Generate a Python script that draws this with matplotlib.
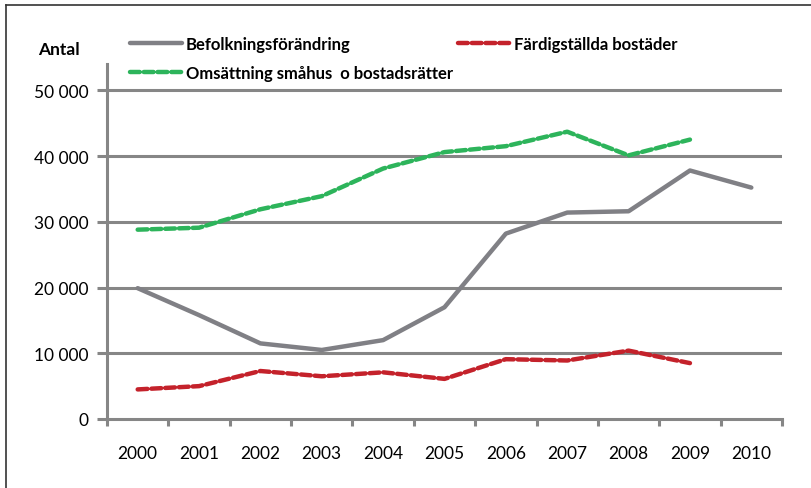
import numpy as np
import matplotlib.pyplot as plt
from matplotlib.lines import Line2D

plt.rcParams['font.family'] = ['Lato', 'DejaVu Sans']

years = ['2000', '2001', '2002', '2003', '2004', '2005',
         '2006', '2007', '2008', '2009', '2010']
befolkning = [19900, 15800, 11500, 10500, 12000, 17000,
              28200, 31400, 31600, 37800, 35200]
fardigstallda = [4500, 5000, 7300, 6500, 7100, 6100,
                 9100, 8900, 10400, 8500]
omsattning = [28800, 29100, 31900, 33900, 38100, 40600,
              41500, 43700, 40100, 42500]
yticks = [0, 10000, 20000, 30000, 40000, 50000]
ytick_labels = ['0', '10 000', '20 000', '30 000', '40 000', '50 000']

axis_col = '#868686'

fig = plt.figure(figsize=(8.12, 4.89), dpi=100)
ax = fig.add_axes([107/812, 1-420/489, 675/812, 355/489])

x = np.arange(len(years))
l1, = ax.plot(x, befolkning, color='#808085', lw=3.2, solid_capstyle='round',
              label='Befolkningsförändring', zorder=3)
l2, = ax.plot(x[:len(fardigstallda)], fardigstallda, color='#C4222B', lw=3.2,
              dashes=(2.2, 0.9), dash_capstyle='round',
              label='Färdigställda bostäder', zorder=3)
l3, = ax.plot(x[:len(omsattning)], omsattning, color='#2DB45B', lw=3.2,
              dashes=(2.2, 0.9), dash_capstyle='round',
              label='Omsättning småhus  o bostadsrätter', zorder=3)

ax.set_xlim(-0.5, len(years) - 0.5)
ax.set_ylim(0, 54000)
ax.set_yticks(yticks)
ax.set_yticklabels(ytick_labels)
ax.set_xticks(x)
ax.set_xticklabels(years)
ax.set_xticks(np.arange(-0.5, len(years)), minor=True)
ax.tick_params(axis='x', which='major', length=0, pad=19, labelsize=12.5)
ax.tick_params(axis='x', which='minor', length=5, width=2.2, color=axis_col)
ax.tick_params(axis='y', length=7, width=2.2, color=axis_col, pad=6, labelsize=12.5)

for v in yticks[1:]:
    ax.axhline(v, color=axis_col, lw=2.2, zorder=1)

for side in ['top', 'right']:
    ax.spines[side].set_visible(False)
for side in ['left', 'bottom']:
    ax.spines[side].set_color(axis_col)
    ax.spines[side].set_linewidth(2.2)

fig.text(38/812, 1-50/489, 'Antal', fontsize=12.5, fontweight='bold', va='center')

leg = fig.legend(handles=[l1, l3, l2], ncol=2, loc='upper left',
                 bbox_to_anchor=(115/812, 1-22/489), frameon=False,
                 handlelength=3.1, handletextpad=0.25, columnspacing=0.3,
                 labelspacing=0.75, prop={'weight': 'bold', 'size': 12})

# frame of the original figure
fig.add_artist(Line2D([6/812, 1], [1-6/489, 1-6/489], color='#333333', lw=1.2))
fig.add_artist(Line2D([6/812, 6/812], [0, 1-6/489], color='#333333', lw=1.2))

fig.savefig('out.png', dpi=100)
